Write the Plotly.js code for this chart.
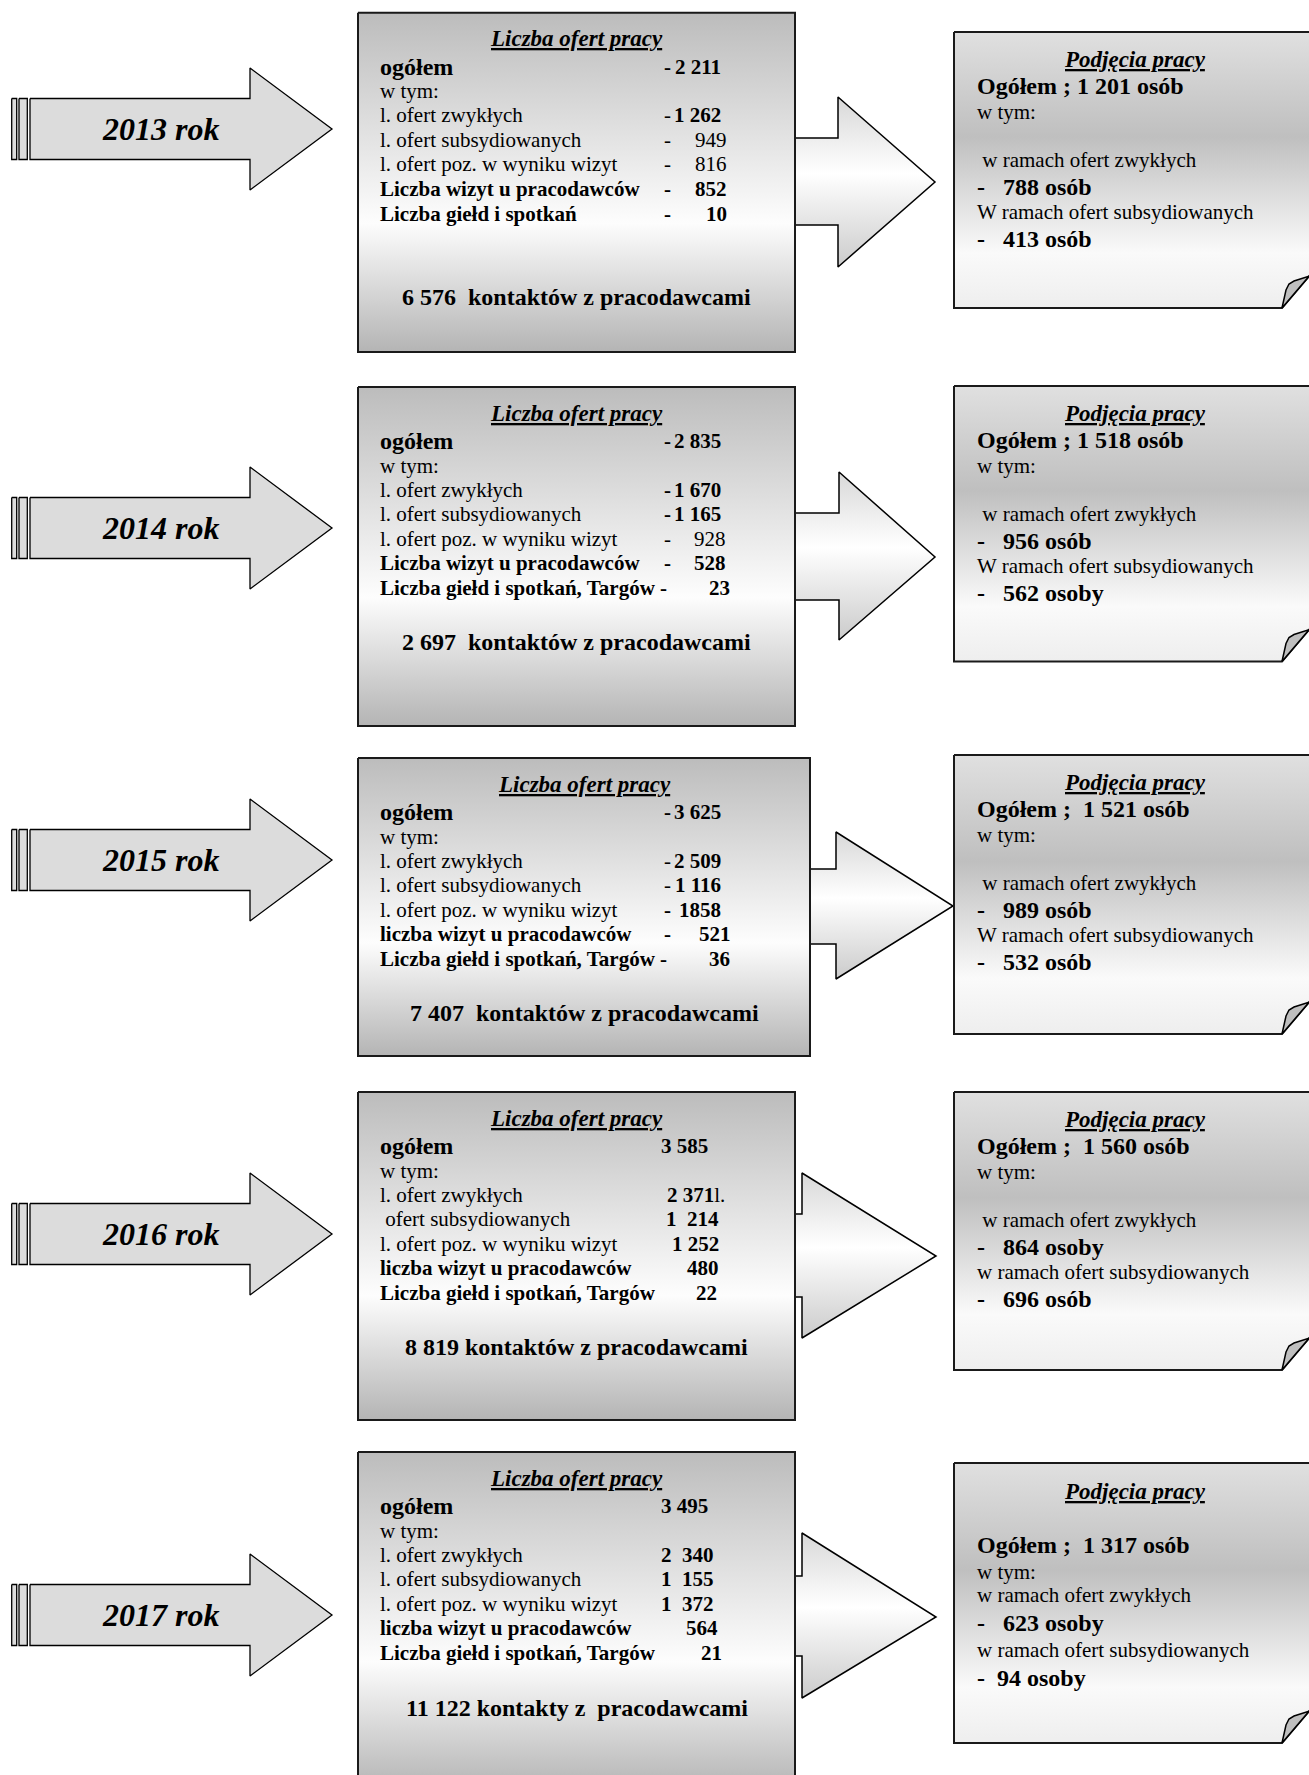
<!DOCTYPE html>
<html><head><meta charset="utf-8">
<script src="https://cdn.plot.ly/plotly-3.0.1.min.js"></script>
<style>html,body{margin:0;padding:0;background:#fff;overflow:hidden}</style>
</head><body><div id="chart" style="width:1309px;height:1775px"></div>
<script>
// ================= DATA =================
const years = ['2013 rok', '2014 rok', '2015 rok', '2016 rok', '2017 rok'];
const offersTitle = 'Liczba ofert pracy';
const hiresTitle = 'Podjęcia pracy';

const labelTotal = ['ogółem', 'ogółem', 'ogółem', 'ogółem', 'ogółem'];
const labelInc = ['w tym:', 'w tym:', 'w tym:', 'w tym:', 'w tym:'];
const labelRegular = ['l. ofert zwykłych', 'l. ofert zwykłych', 'l. ofert zwykłych', 'l. ofert zwykłych', 'l. ofert zwykłych'];
const labelSubsid = ['l. ofert subsydiowanych', 'l. ofert subsydiowanych', 'l. ofert subsydiowanych', ' ofert subsydiowanych', 'l. ofert subsydiowanych'];
const labelVisitOffers = ['l. ofert poz. w wyniku wizyt', 'l. ofert poz. w wyniku wizyt', 'l. ofert poz. w wyniku wizyt', 'l. ofert poz. w wyniku wizyt', 'l. ofert poz. w wyniku wizyt'];
const labelVisits = ['Liczba wizyt u pracodawców', 'Liczba wizyt u pracodawców', 'liczba wizyt u pracodawców', 'liczba wizyt u pracodawców', 'liczba wizyt u pracodawców'];
const labelFairs = ['Liczba giełd i spotkań', 'Liczba giełd i spotkań, Targów -', 'Liczba giełd i spotkań, Targów -', 'Liczba giełd i spotkań, Targów', 'Liczba giełd i spotkań, Targów'];

const offersTotal = ['2 211', '2 835', '3 625', '3 585', '3 495'];
const offersRegular = ['1 262', '1 670', '2 509', '2 371', '2  340'];
const offersRegularSuffix = ['', '', '', 'l.', ''];
const offersSubsid = ['949', '1 165', '1 116', '1  214', '1  155'];
const offersFromVisits = ['816', '928', '1858', '1 252', '1  372'];
const visits = ['852', '528', '521', '480', '564'];
const fairs = ['10', '23', '36', '22', '21'];
const contacts = ['6 576  kontaktów z pracodawcami', '2 697  kontaktów z pracodawcami', '7 407  kontaktów z pracodawcami', '8 819 kontaktów z pracodawcami', '11 122 kontakty z  pracodawcami'];

const hiresTotal = ['Ogółem ; 1 201 osób', 'Ogółem ; 1 518 osób', 'Ogółem ;  1 521 osób', 'Ogółem ;  1 560 osób', 'Ogółem ;  1 317 osób'];
const hiresInc = ['w tym:', 'w tym:', 'w tym:', 'w tym:', 'w tym:'];
const hiresRegularLabel = [' w ramach ofert zwykłych', ' w ramach ofert zwykłych', ' w ramach ofert zwykłych', ' w ramach ofert zwykłych', 'w ramach ofert zwykłych'];
const hiresRegular = ['788 osób', '956 osób', '989 osób', '864 osoby', '623 osoby'];
const hiresSubsidLabel = ['W ramach ofert subsydiowanych', 'W ramach ofert subsydiowanych', 'W ramach ofert subsydiowanych', 'w ramach ofert subsydiowanych', 'w ramach ofert subsydiowanych'];
const hiresSubsid = ['413 osób', '562 osoby', '532 osób', '696 osób', '94 osoby'];

// ================= LAYOUT / STYLE =================
const W = 1309, H = 1775;
const FONT = '"Liberation Serif", "Times New Roman", Times, serif';

// left arrows
const leftArrowCY = [129, 528, 860, 1234, 1615];
// main boxes
const boxL = 358;
const boxR = [795, 795, 810, 795, 795];
const boxT = [12.7, 387, 758, 1092, 1452];
const boxB = [352, 726, 1056, 1420, 1790];
const footerOff = [284, 254.5, 255, 255, 256];
// right arrows
const raShaftT = [138, 513, 869, 1214, 1576];
const raShaftB = [225, 600, 944, 1297, 1656];
const raHeadT = [97, 472, 832, 1173, 1533];
const raHeadB = [267, 640, 979, 1338, 1698];
const raHeadX = [838, 839, 836, 802, 802];
const raTipX = [935, 935, 953, 936, 936];
const raTipY = [182, 557, 906, 1256, 1617];
// right boxes
const rbL = 954;
const rbT = [32, 386, 755, 1092, 1463];
const rbB = [308, 661.5, 1034, 1370, 1743];
// value right edges (ogółem, zwykłych, subsyd., poz., wizyt, giełd)
const valR = [
  [722, 722, 728, 728, 728, 728],
  [722, 722, 722, 727, 727, 731],
  [722, 722, 722, 722, 732, 731],
  [709, 726, 720, 720, 720, 718],
  [709, 715, 715, 715, 719, 723]
];
const subsBold = [false, true, true, true, true];
const pozBold = [false, false, true, true, true];

const traces = [];
const ann = [];

function sp(s) { return s.replace(/  /g, ' \u00a0').replace(/^ /, '\u00a0'); }

function poly(xs, ys, o) {
  const t = {
    type: 'scatter', mode: 'lines', x: xs.concat([xs[0]]), y: ys.concat([ys[0]]),
    fill: 'toself', line: { color: o.line || '#000', width: o.lw || 1.5 },
    hoverinfo: 'skip', showlegend: false
  };
  if (o.grad) {
    t.fillgradient = { type: 'vertical', start: o.grad[0], stop: o.grad[1], colorscale: o.grad[2] };
  } else {
    t.fillcolor = o.fill;
  }
  traces.push(t);
}

function txt(x, y, text, size, anchor) {
  ann.push({
    x: x, y: y, xref: 'x', yref: 'y', text: text, showarrow: false,
    xanchor: anchor || 'left', yanchor: 'middle', borderpad: 0,
    font: { family: FONT, size: size, color: '#000' }
  });
}

const mainCS = [[0, '#bcbcbc'], [0.62, '#fdfdfd'], [1, '#b4b4b4']];
const arrowCS = [[0, '#d8d8d8'], [0.45, '#ffffff'], [1, '#cbcbcb']];
const rbCS = [[0, '#e0e0e0'], [0.38, '#bfbfbf'], [0.8, '#fafafa'], [1, '#eeeeee']];

const rowOff = [54, 78.5, 102.5, 127, 151.5, 176, 201];
const hireOffA = [27, 54, 79.5, 128, 155, 180, 207];
const hireOffB = [28.7, 82, 108.7, 132, 159.7, 187, 215];

years.forEach(function (yr, i) {
  // ---- left arrow ----
  const cy = leftArrowCY[i];
  const sh = 30.5, hh = 61;
  poly([11.7, 16.7, 16.7, 11.7], [cy - sh, cy - sh, cy + sh, cy + sh], { fill: '#dcdcdc', lw: 1.3 });
  poly([19, 27.3, 27.3, 19], [cy - sh, cy - sh, cy + sh, cy + sh], { fill: '#dcdcdc', lw: 1.3 });
  poly([30, 250, 250, 332, 250, 250, 30], [cy - sh, cy - sh, cy - hh, cy, cy + hh, cy + sh, cy + sh], { fill: '#dcdcdc', lw: 1.3 });
  txt(160, cy, '<b><i>' + yr + '</i></b>', 32, 'center');

  // ---- right arrow (under the box) ----
  const r = boxR[i];
  poly([r - 30, raHeadX[i], raHeadX[i], raTipX[i], raHeadX[i], raHeadX[i], r - 30],
       [raShaftT[i], raShaftT[i], raHeadT[i], raTipY[i], raHeadB[i], raShaftB[i], raShaftB[i]],
       { grad: [raHeadT[i], raHeadB[i], arrowCS], lw: 1.5 });

  // ---- main box ----
  poly([boxL, r, r, boxL], [boxT[i], boxT[i], boxB[i], boxB[i]], { grad: [boxT[i], boxB[i], mainCS], lw: 2, line: '#1a1a1a' });

  // ---- right box with folded corner ----
  const t = rbT[i], b = rbB[i];
  const cx = 1282, k = 31.7 / 27;
  poly([rbL, 1345, 1345, cx, rbL], [t, t, b - (1345 - cx) * k, b, b], { grad: [t, b, rbCS], lw: 2, line: '#1a1a1a' });
  poly([cx, cx + 2, cx + 4, cx + 7, cx + 12, cx + 27],
       [b, b - 10, b - 18, b - 24, b - 27, b - 31.7], { fill: '#bfbfbf', lw: 1.5 });

  // ---- main box text ----
  const mx = (boxL + r) / 2;
  const T = boxT[i];
  const lx = 379.3, dx = 663;
  txt(mx, T + 26, '<b><i><u>' + offersTitle + '</u></i></b>', 23, 'center');
  txt(lx, T + rowOff[0], '<b>' + labelTotal[i] + '</b>', 24);
  txt(lx, T + rowOff[1], labelInc[i], 21);
  txt(lx, T + rowOff[2], labelRegular[i], 21);
  txt(lx, T + rowOff[3], sp(labelSubsid[i]), 21);
  txt(lx, T + rowOff[4], labelVisitOffers[i], 21);
  txt(lx, T + rowOff[5], '<b>' + labelVisits[i] + '</b>', 21);
  txt(lx, T + rowOff[6], '<b>' + labelFairs[i] + '</b>', 21);

  const withDash = i <= 2;
  const vals = [
    [offersTotal[i], true, 0, true],
    [offersRegular[i] + (offersRegularSuffix[i] ? '</b>' + offersRegularSuffix[i] + '<b>' : ''), true, 2, i === 1],
    [offersSubsid[i], subsBold[i], 3, subsBold[i] && i === 1],
    [offersFromVisits[i], pozBold[i], 4, pozBold[i]],
    [visits[i], true, 5, true],
    [fairs[i], true, 6, true]
  ];
  vals.forEach(function (v, j) {
    const yy = T + rowOff[v[2]];
    const s = sp(v[0]);
    txt(valR[i][j], yy, v[1] ? '<b>' + s + '</b>' : s, 21, 'right');
    const dashHere = withDash && !(j === 5 && labelFairs[i].slice(-1) === '-');
    if (dashHere) txt(dx, yy, v[3] ? '<b>-</b>' : '-', 21, 'left');
  });
  txt(mx, T + footerOff[i], '<b>' + sp(contacts[i]) + '</b>', 24, 'center');

  // ---- right box text ----
  const off = i === 4 ? hireOffB : hireOffA;
  const rx = 976;
  txt(1135, t + off[0], '<b><i><u>' + hiresTitle + '</u></i></b>', 23, 'center');
  txt(rx, t + off[1], '<b>' + sp(hiresTotal[i]) + '</b>', 24);
  txt(rx, t + off[2], hiresInc[i], 21);
  txt(rx, t + off[3], sp(hiresRegularLabel[i]), 21);
  txt(rx, t + off[4], '<b>-</b>', 24);
  txt(1001.7, t + off[4], '<b>' + hiresRegular[i] + '</b>', 24);
  txt(rx, t + off[5], hiresSubsidLabel[i], 21);
  txt(rx, t + off[6], '<b>-</b>', 24);
  txt(i === 4 ? 996 : 1001.7, t + off[6], '<b>' + hiresSubsid[i] + '</b>', 24);
});

const layout = {
  width: W, height: H,
  margin: { l: 0, r: 0, t: 0, b: 0, pad: 0 },
  paper_bgcolor: '#ffffff', plot_bgcolor: '#ffffff',
  showlegend: false,
  xaxis: { range: [0, W], visible: false, fixedrange: true },
  yaxis: { range: [H, 0], visible: false, fixedrange: true },
  annotations: ann
};
Plotly.newPlot('chart', traces, layout, { staticPlot: true, displayModeBar: false });
</script>
</body></html>
